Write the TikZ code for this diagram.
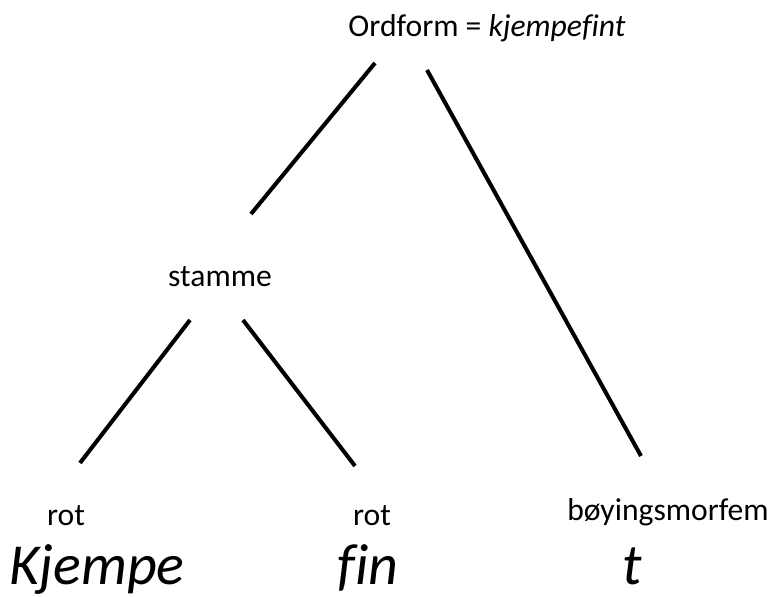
\documentclass[tikz,border=0pt]{standalone}
\usepackage{fontspec}
\setmainfont{Carlito}[Ligatures=CommonOff]
\usetikzlibrary{positioning}

\tikzset{
  lbl/.style={inner sep=0pt, anchor=base, font=\fontsize{18}{21}\selectfont},
  word/.style={inner sep=0pt, anchor=base, font=\fontsize{33}{38}\selectfont\itshape},
  branch/.style={line width=2.3pt}
}

\begin{document}
\begin{tikzpicture}[x=0.02cm, y=-0.02cm]
		\useasboundingbox (0,0) rectangle (775,597);
		% labels
		\node[lbl] (ord) at (487,37) {Ordform = \textit{kjempefint}};
		\node[lbl] (stm) at (220,287) {stamme};
		\node[lbl] (rot1) at (66,526) {rot};
		\node[lbl] (rot2) at (372,526) {rot};
		\node[lbl] (boy) at (668,521) {bøyingsmorfem};
		\node[word] (kj) at (97,585) {Kjempe};
		\node[word] (fin) at (368,585) {fin};
		\node[word] (t) at (632,585) {t};
		% line ends
		\coordinate (ord-l) at (375,63);
		\coordinate (ord-r) at (427,70);
		\coordinate (stm-t) at (251,214);
		\coordinate (stm-l) at (190,320);
		\coordinate (stm-r) at (243,320);
		\coordinate (rot1-t) at (80,463);
		\coordinate (rot2-t) at (355,466);
		\coordinate (boy-t) at (641,456);
		% tree
		\draw[branch] (ord-l) -- (stm-t);
		\draw[branch] (ord-r) -- (boy-t);
		\draw[branch] (stm-l) -- (rot1-t);
		\draw[branch] (stm-r) -- (rot2-t);
\end{tikzpicture}
\end{document}
